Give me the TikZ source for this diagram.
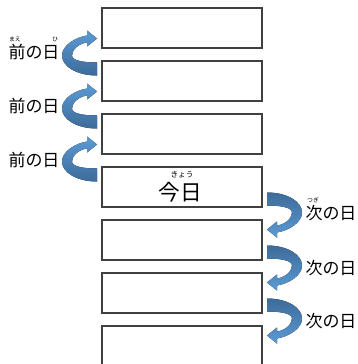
\documentclass[tikz,border=0pt]{standalone}
\usepackage{fontspec}
\setmainfont{Noto Sans CJK JP}

\definecolor{arrowlight}{HTML}{5B9BD5}
\definecolor{arrowdark}{HTML}{3D6B99}
\definecolor{boxline}{HTML}{404040}

\tikzset{
  daybox/.style={draw=boxline, line width=1.1pt, minimum width=4.8cm, minimum height=1.2cm, inner sep=0pt},
  daylabel/.style={font=\fontsize{14.5}{16}\selectfont, inner sep=0pt},
  ruby/.style={font=\fontsize{5}{6}\selectfont, inner sep=0pt},
  dayarrow/.pic={
    \fill[pic actions] (0,8) -- (0,21)
      .. controls (-20,21) and (-35,12) .. (-35,1)
      .. controls (-35,-9) and (-22,-17) .. (-10,-19)
      -- (-10,-24) -- (0,-16) -- (-10,-8) -- (-10,-12)
      .. controls (-18,-11) and (-25,-5) .. (-25,1)
      .. controls (-25,6) and (-14,8) .. (0,8) -- cycle;
  },
}

\begin{document}
\begin{tikzpicture}[x=0.03cm, y=-0.03cm]
	\useasboundingbox (0,0) rectangle (357,364);
	% the seven days
	\node[daybox] (day1) at (182,28) {};
	\node[daybox] (day2) at (182,81) {};
	\node[daybox] (day3) at (182,134) {};
	\node[daybox] (day4) at (182,187) {};
	\node[daybox] (day5) at (182,240) {};
	\node[daybox] (day6) at (182,293) {};
	\node[daybox] (day7) at (182,346) {};
	\node[font=\fontsize{18.5}{20}\selectfont, inner sep=0pt] (today) at (180,192) {今日};
	\node[ruby, font=\fontsize{6.5}{7}\selectfont] (todayruby) at (182,175) {きょう};
	% going back
	\pic[top color=arrowlight, bottom color=arrowdark] (back1) at (97,54.5) {dayarrow};
	\pic[top color=arrowlight, bottom color=arrowdark] (back2) at (97,107.5) {dayarrow};
	\pic[top color=arrowlight, bottom color=arrowdark] (back3) at (97,160.5) {dayarrow};
	\node[daylabel] (prev1) at (34,52) {前の日};
	\node[daylabel] (prev2) at (34,106) {前の日};
	\node[daylabel] (prev3) at (34,160) {前の日};
	\node[ruby] (prev1ruby) at (15,39) {まえ};
	\node[ruby] (prev1rubyb) at (55,39) {ひ};
	% going forward
	\pic[rotate=180, top color=arrowdark, bottom color=arrowlight] (fwd1) at (267,213.5) {dayarrow};
	\pic[rotate=180, top color=arrowdark, bottom color=arrowlight] (fwd2) at (267,266.5) {dayarrow};
	\pic[rotate=180, top color=arrowdark, bottom color=arrowlight] (fwd3) at (267,319.5) {dayarrow};
	\node[daylabel] (next1) at (331,213) {次の日};
	\node[daylabel] (next2) at (331,268) {次の日};
	\node[daylabel] (next3) at (331,321) {次の日};
	\node[ruby] (next1ruby) at (313,200) {つぎ};
\end{tikzpicture}
\end{document}
